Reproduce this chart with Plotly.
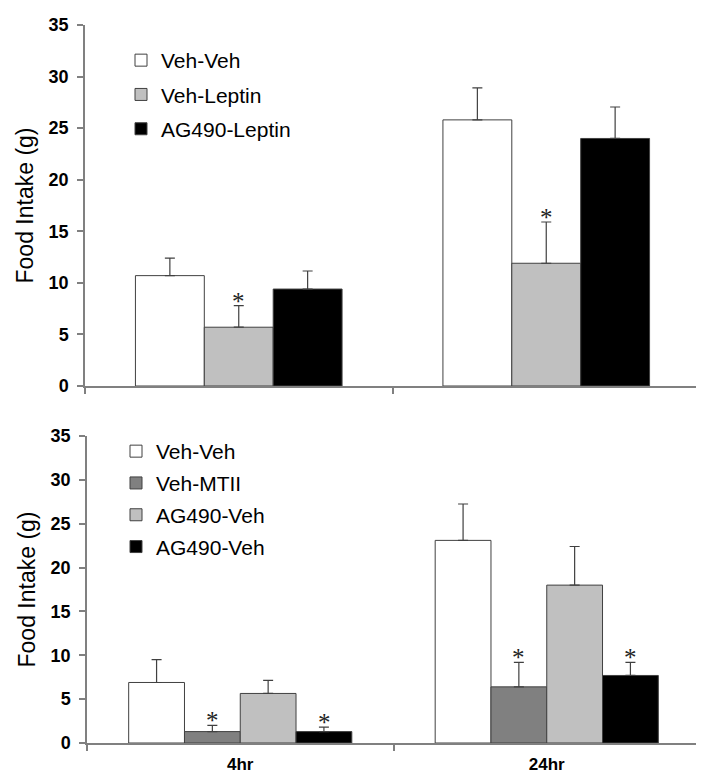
import plotly.graph_objects as go

# ---------------- data ----------------
times = ["4hr", "24hr"]

top_names = ["Veh-Veh", "Veh-Leptin", "AG490-Leptin"]
top_means = [[10.7, 25.8], [5.7, 11.9], [9.4, 24.0]]
top_sem = [[1.7, 3.1], [2.1, 4.0], [1.75, 3.05]]
top_sig = [[False, False], [True, True], [False, False]]

bot_names = ["Veh-Veh", "Veh-MTII", "AG490-Veh", "AG490-Veh"]
bot_means = [[6.9, 23.1], [1.3, 6.4], [5.65, 18.0], [1.3, 7.7]]
bot_sem = [[2.6, 4.15], [0.7, 2.8], [1.5, 4.4], [0.5, 1.5]]
bot_sig = [[False, False], [True, True], [False, False], [True, True]]

yticks = [0, 5, 10, 15, 20, 25, 30, 35]

# ---------------- style ----------------
top_colors = ["#ffffff", "#c0c0c0", "#000000"]
bot_colors = ["#ffffff", "#808080", "#c0c0c0", "#000000"]
FONT = "Liberation Sans, Arial, sans-serif"
AXC = "#808080"
EDGE = "#404040"

W, H = 704, 775
ML, MR, MT, MB = 76, 12, 17, 40
ph = H - MT - MB
pw = W - ML - MR


def fy(py):
    return (H - MB - py) / ph


def fx(px):
    return (px - ML) / pw


fig = go.Figure()
CAT_PX = 307.0


def add_panel(names, means, sems, sigs, colors, xa, ya, legend, width):
    n = len(names)
    start = -width * n / 2
    for i in range(n):
        fig.add_trace(go.Bar(
            x=times, y=means[i], name=names[i],
            xaxis=xa, yaxis=ya, legend=legend,
            legendgroup=legend + str(i),
            width=width, offset=start + i * width,
            marker=dict(color=colors[i], line=dict(color=EDGE, width=1)),
            error_y=dict(type="data", symmetric=False, array=sems[i],
                         arrayminus=[0] * len(times), color=EDGE,
                         thickness=1.2, width=5),
        ))
        for j, t in enumerate(times):
            if sigs[i][j]:
                fig.add_annotation(
                    x=t, y=means[i][j] + sems[i][j], xref=xa, yref=ya,
                    xshift=(start + (i + 0.5) * width) * CAT_PX,
                    text="*", showarrow=False, yanchor="bottom",
                    font=dict(family="Liberation Serif, Times New Roman, serif",
                              size=25, color="#222222"),
                    yshift=-11,
                )


add_panel(top_names, top_means, top_sem, top_sig, top_colors, "x", "y", "legend", 0.224)
add_panel(bot_names, bot_means, bot_sem, bot_sig, bot_colors, "x2", "y2", "legend2", 0.182)

axis_common = dict(showgrid=False, zeroline=False, showline=True, linecolor=AXC,
                   linewidth=1.5, ticks="outside", tickcolor=AXC, ticklen=6,
                   tickwidth=1.5, automargin=False)

TICKF = dict(size=18, weight="bold")
TITLEF = dict(size=23)
LEGF = dict(size=21)

fig.update_layout(
    width=W, height=H,
    margin=dict(l=ML, r=MR, t=MT, b=MB),
    paper_bgcolor="white", plot_bgcolor="white",
    barmode="overlay",
    font=dict(family=FONT, color="#000000"),
    xaxis=dict(domain=[fx(77), 1], anchor="y", type="category",
               tickson="boundaries", showticklabels=False, **axis_common),
    yaxis=dict(domain=[fy(378), 1], anchor="x", range=[0, 35], tickvals=yticks,
               tickfont=TICKF, ticklabelstandoff=5,
               title=dict(text="Food Intake (g)", font=TITLEF, standoff=9),
               **axis_common),
    xaxis2=dict(domain=[fx(79), 1], anchor="y2", type="category",
                tickson="boundaries", tickfont=dict(size=17, weight="bold"),
                ticklabelstandoff=5, **axis_common),
    yaxis2=dict(domain=[0, fy(428)], anchor="x2", range=[0, 35], tickvals=yticks,
                tickfont=TICKF, ticklabelstandoff=5,
                title=dict(text="Food Intake (g)", font=TITLEF, standoff=9),
                **axis_common),
    legend=dict(x=fx(113), y=fy(32), xanchor="left", yanchor="top",
                font=LEGF, bgcolor="rgba(0,0,0,0)",
                traceorder="grouped", tracegroupgap=4, itemwidth=30),
    legend2=dict(x=fx(108), y=fy(423), xanchor="left", yanchor="top",
                 font=LEGF, bgcolor="rgba(0,0,0,0)",
                 traceorder="grouped", tracegroupgap=1.5, itemwidth=30),
    showlegend=True,
)

fig.write_html("out.html")
